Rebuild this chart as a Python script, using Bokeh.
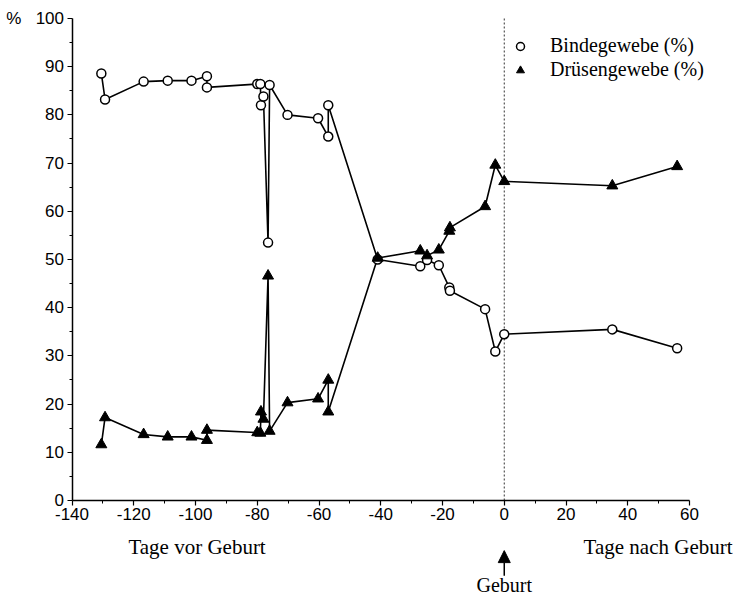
from bokeh.plotting import figure
from bokeh.models import (Label, Arrow, NormalHead, Legend, LegendItem,
                          FixedTicker, Range1d, ColumnDataSource)
from bokeh.embed import file_html
from bokeh.resources import INLINE

# Days relative to birth
days = [-130.5, -129.3, -116.8, -109.0, -101.3, -96.3, -96.3, -80.0, -79.0, -78.8,
        -78.0, -76.5, -76.0, -70.2, -60.3, -57.0, -57.0, -41.0, -27.2, -25.0,
        -21.2, -17.8, -17.6, -6.2, -2.9, 0.0, 35.0, 56.0]
# Bindegewebe (%)
binde = [88.6, 83.2, 86.9, 87.1, 87.1, 88.0, 85.7, 86.4, 86.4, 82.0,
         83.8, 53.5, 86.2, 80.0, 79.3, 75.5, 82.0, 50.0, 48.6, 49.9,
         48.8, 44.2, 43.5, 39.7, 30.9, 34.5, 35.5, 31.6]
# Drüsengewebe (%)
druese = [11.6, 17.2, 13.7, 13.2, 13.2, 12.5, 14.6, 14.1, 14.0, 18.4,
          16.9, 46.6, 14.4, 20.3, 21.1, 25.0, 18.4, 50.3, 51.8, 50.8,
          52.0, 55.9, 56.6, 61.0, 69.6, 66.2, 65.3, 69.3]

x_ticks = [-140, -120, -100, -80, -60, -40, -20, 0, 20, 40, 60]
x_minor = [-130, -110, -90, -70, -50, -30, -10, 10, 30, 50]
y_ticks = [0, 10, 20, 30, 40, 50, 60, 70, 80, 90, 100]
y_minor = [5, 15, 25, 35, 45, 55, 65, 75, 85, 95]

label_binde = "Bindegewebe (%)"
label_druese = "Drüsengewebe (%)"
birth_day = 0

src = ColumnDataSource(dict(d=days, b=binde, g=druese))

W, H = 735, 595
p = figure(width=W, height=H, output_backend="svg", toolbar_location=None,
           x_range=Range1d(-163.16, 74.25), y_range=Range1d(-19.71, 103.73),
           min_border_left=0, min_border_right=2, min_border_top=0,
           min_border_bottom=0)
p.outline_line_color = None
p.grid.visible = False
p.background_fill_color = "white"

SANS = "Liberation Sans"
SERIF = "Liberation Serif"

for ax in (p.xaxis[0], p.yaxis[0]):
    ax.axis_line_color = "black"
    ax.axis_line_width = 1.5
    ax.major_tick_line_color = "black"
    ax.minor_tick_line_color = "black"
    ax.major_tick_line_width = 1.2
    ax.minor_tick_line_width = 1
    ax.major_tick_in = 0
    ax.major_tick_out = 5
    ax.minor_tick_in = 0
    ax.minor_tick_out = 3
    ax.major_label_text_font = SANS
    ax.major_label_text_font_size = "17px"
    ax.major_label_text_color = "black"
    ax.major_label_standoff = 3

p.xaxis.ticker = FixedTicker(ticks=x_ticks, minor_ticks=x_minor)
p.yaxis.ticker = FixedTicker(ticks=y_ticks, minor_ticks=y_minor)
p.xaxis.bounds = (x_ticks[0], x_ticks[-1])
p.yaxis.bounds = (y_ticks[0], y_ticks[-1])
p.xaxis.fixed_location = y_ticks[0]
p.yaxis.fixed_location = x_ticks[0]
p.xaxis.major_label_overrides = {t: str(t) for t in x_ticks}
p.yaxis.major_label_overrides = {100: "%\u00a0\u00a0 100"}

# birth line (dotted), from the x axis up to the top of the y axis
p.segment(x0=[birth_day], y0=[y_ticks[0]], x1=[birth_day], y1=[y_ticks[-1]],
          line_color="#333333", line_width=1, line_dash="2 2")

p.line("d", "b", source=src, line_color="black", line_width=1.6)
p.line("d", "g", source=src, line_color="black", line_width=1.6)
r_b = p.scatter("d", "b", source=src, marker="circle", size=9,
                fill_color="white", line_color="black", line_width=1.5)
r_g = p.scatter("d", "g", source=src, marker="triangle", size=11,
                fill_color="black", line_color="black", line_width=1)

legend = Legend(items=[LegendItem(label=label_binde, renderers=[r_b]),
                       LegendItem(label=label_druese, renderers=[r_g])],
                location=(510, 514), padding=0, margin=0, spacing=1,
                glyph_width=20, glyph_height=20, label_height=20,
                label_standoff=20, border_line_color=None,
                background_fill_alpha=0,
                label_text_font=SERIF, label_text_font_size="20px",
                label_text_color="black")
p.add_layout(legend)

p.add_layout(Label(x=-99.5, y=-9.75, text="Tage vor Geburt", text_font=SERIF,
                   text_font_size="21px", text_align="center",
                   text_baseline="middle", text_color="black"))
p.add_layout(Label(x=25.7, y=-9.75, text="Tage nach Geburt", text_font=SERIF,
                   text_font_size="21px", text_align="left",
                   text_baseline="middle", text_color="black"))
p.add_layout(Arrow(end=NormalHead(size=12, fill_color="black", line_color="black"),
                   x_start=birth_day, y_start=-15.6, x_end=birth_day, y_end=-10.4,
                   line_color="black", line_width=1.5))
p.add_layout(Label(x=birth_day, y=-17.6, text="Geburt", text_font=SERIF,
                   text_font_size="20px", text_align="center",
                   text_baseline="middle", text_color="black"))

open("out.html", "w").write(file_html(p, INLINE))
